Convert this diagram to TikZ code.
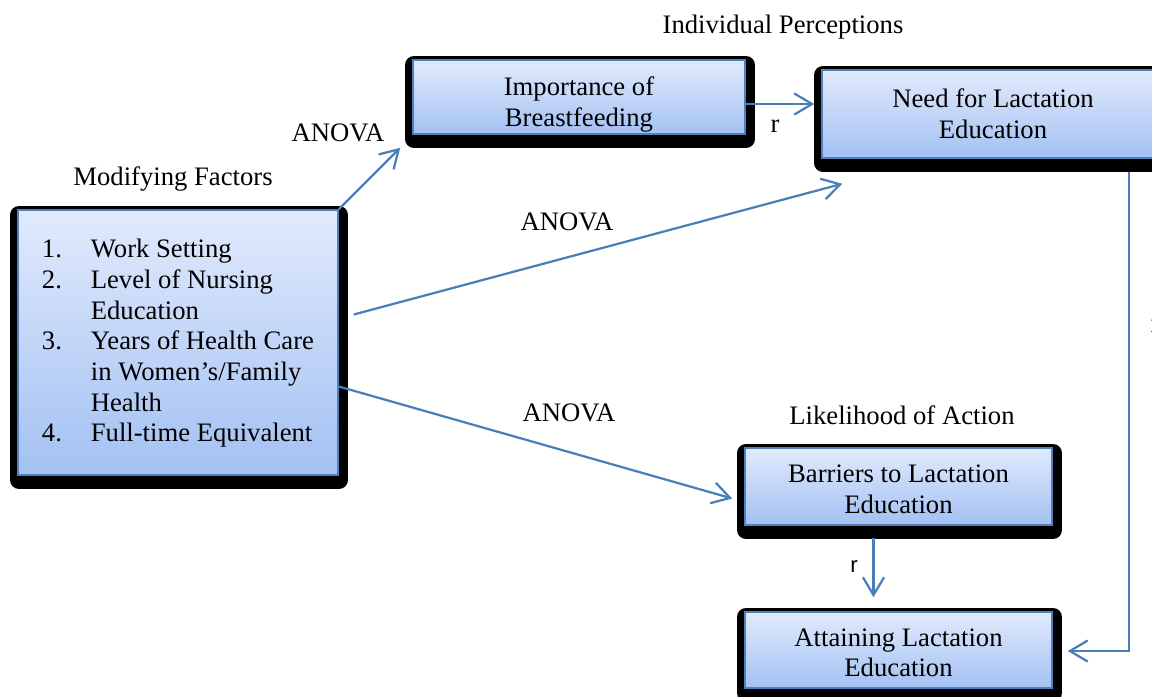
\documentclass[tikz,border=0pt]{standalone}
\usepackage{fontspec}
\setmainfont{Liberation Serif}
\setsansfont{Liberation Sans}
\usetikzlibrary{arrows.meta,calc,shadows}
\definecolor{boxline}{HTML}{4F81BD}
\definecolor{boxtop}{HTML}{E1EAFC}
\definecolor{boxbot}{HTML}{A3C1F3}
\definecolor{arrowblue}{HTML}{4A7EBB}
\tikzset{
  factor/.style={draw=boxline, line width=.7pt, top color=boxtop, bottom color=boxbot,
    align=center, inner sep=0pt,
    general shadow={draw=black, fill=black, line width=8.1pt, line join=round,
      shadow xshift=.45pt, shadow yshift=-2.25pt}},
  link/.style={draw=arrowblue, line width=1pt, -{Straight Barb[length=8pt,width=9.5pt]}},
}
\begin{document}
\begin{tikzpicture}[x=.45pt,y=-.45pt,font=\fontsize{12}{13.8}\selectfont]
\useasboundingbox (0,0) rectangle (1152,696);
% boxes
\node[factor, minimum width=149.4pt, minimum height=33.3pt] (imp) at (579,97) {\rule{0pt}{15pt}Importance of\\Breastfeeding};
\node[factor, minimum width=153.9pt, minimum height=39.6pt] (need) at (993,114) {Need for Lactation\\Education};
\node[factor, minimum width=144pt, minimum height=119.25pt, align=left, inner xsep=9pt] (mod) at (178,342.5)
  {\rule{0pt}{9pt}\makebox[22pt][l]{1.}Work Setting\\
   \makebox[22pt][l]{2.}Level of Nursing\\
   \hspace*{22pt}Education\\
   \makebox[22pt][l]{3.}Years of Health Care\\
   \hspace*{22pt}in Women’s/Family\\
   \hspace*{22pt}Health\\
   \makebox[22pt][l]{4.}Full-time Equivalent};
\node[factor, minimum width=138.15pt, minimum height=34.65pt] (bar) at (898.5,486.5) {\rule{0pt}{10.5pt}Barriers to Lactation\\Education};
\node[factor, minimum width=138.15pt, minimum height=34.2pt] (att) at (898.5,650) {\rule{0pt}{10.5pt}Attaining Lactation\\Education};
% headings
\node (indiv) at (783,27) {Individual Perceptions};
\node (modf) at (173,179) {Modifying Factors};
\node (likely) at (902,415) {Likelihood of Action};
% labels
\node (anova1) at (338,133) {ANOVA};
\node (anova2) at (567,222) {ANOVA};
\node (anova3) at (569,413) {ANOVA};
\node (r1) at (775,126) {r};
\node[font=\sffamily\fontsize{10}{12}\selectfont] (r2) at (854,567) {r};
\node (r3) at (1155,326) {r};
% arrows
\draw[link] (mod.north east) -- ($(imp.south west)+(-12,13)$);
\draw[link] ($(mod.east)+(15,-28)$) -- ($(need.south west)+(21,25)$);
\draw[link] ($(mod.east)+(0,44)$) -- ($(bar.west)+(-12,12)$);
\draw[link] ($(imp.east)+(0,7)$) -- ($(need.west)+(-7,-10)$);
\draw[link] ($(bar.south)+(-25,12)$) -- ($(att.north)+(-25,-14)$);
\draw[link] ($(need.south)+(136,13)$) |- ($(att.east)+(15,1)$);
\end{tikzpicture}
\end{document}
